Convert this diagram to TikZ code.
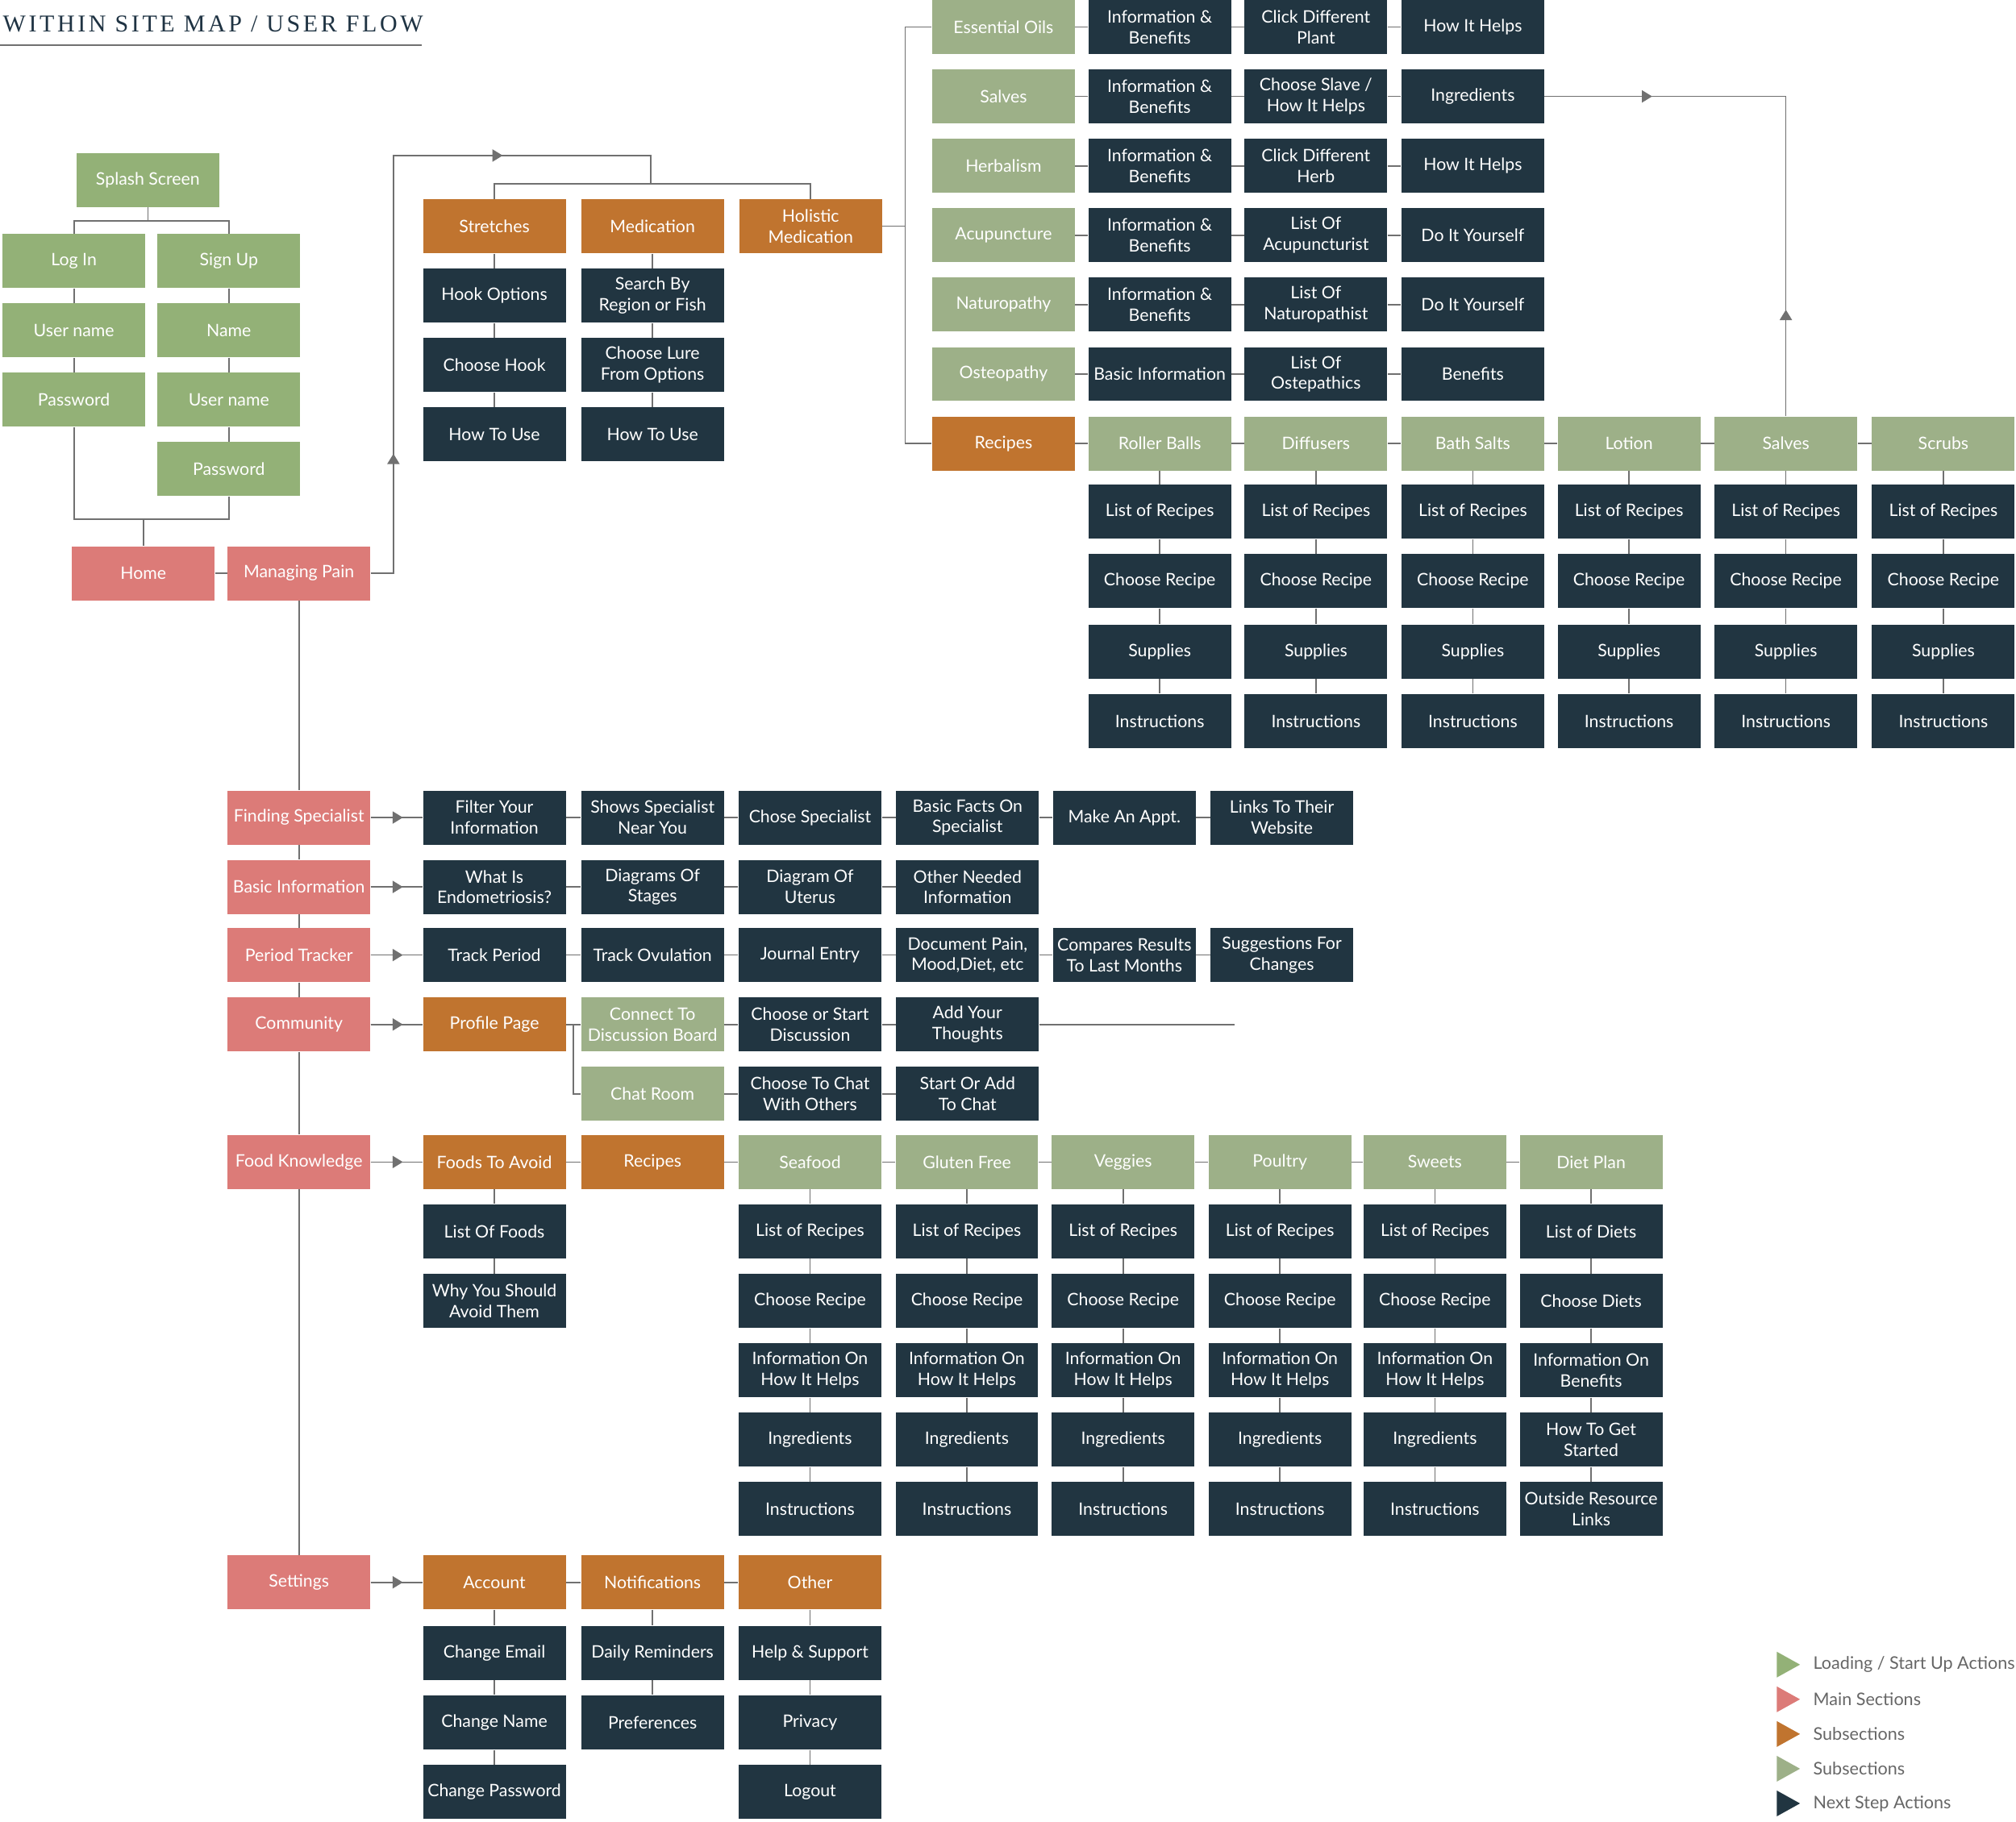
\documentclass[tikz,border=0pt]{standalone}
\usepackage{fontspec}
\usetikzlibrary{arrows.meta}
\newfontfamily\boxfont{Lato}
\newfontfamily\titlefont[LetterSpace=12]{Liberation Serif}
\definecolor{startgreen}{HTML}{93B177}
\definecolor{subgreen}{HTML}{9DB088}
\definecolor{mainpink}{HTML}{DC7B78}
\definecolor{suborange}{HTML}{C0742F}
\definecolor{navy}{HTML}{213541}
\definecolor{linegray}{HTML}{707070}
\definecolor{titleblue}{HTML}{1F3343}
\definecolor{legendgray}{HTML}{666666}
\tikzset{
  box/.style={minimum width=2.22cm, minimum height=0.84cm, inner sep=1pt, align=center, text=white,
    font=\boxfont\fontsize{7.6}{9.2}\selectfont},
  start/.style={box, fill=startgreen},
  mainsec/.style={box, fill=mainpink},
  subsec/.style={box, fill=suborange},
  subgreen/.style={box, fill=subgreen},
  nextstep/.style={box, fill=navy},
  link/.style={draw=linegray, line width=0.6pt},
  tip/.style={link, -{Triangle[length=0.16cm, width=0.19cm]}, fill=linegray},
  keytext/.style={anchor=west, inner sep=0, text=legendgray, font=\boxfont\fontsize{7.7}{9.4}\selectfont}
}
\begin{document}
\begin{tikzpicture}[x=0.02cm, y=-0.02cm]
\useasboundingbox (0,0) rectangle (1568,1417);

% title
\node[anchor=base west, inner sep=0, text=titleblue, font=\titlefont\fontsize{10.7}{12}\selectfont] (title) at (2,24.5) {WITHIN SITE MAP / USER FLOW};
\draw[draw=linegray, line width=0.5pt] (0,35) -- (328,35);

% start up
\node[start] (splash) at (115,140) {Splash Screen};
\node[start] (login) at (57.5,203) {Log In};
\node[start] (luser) at (57.5,257) {User name};
\node[start] (lpass) at (57.5,311) {Password};
\node[start] (signup) at (178,203) {Sign Up};
\node[start] (sname) at (178,257) {Name};
\node[start] (suser) at (178,311) {User name};
\node[start] (spass) at (178,365) {Password};
\node[mainsec] (home) at (111.5,446) {Home};
\node[mainsec] (pain) at (232.5,446) {Managing Pain};

\coordinate (splashJoin) at (115,172);
\coordinate (homeJoin) at (111.5,404);
\draw[link] (splash) -- (splashJoin) -| (login);
\draw[link] (splashJoin) -| (signup);
\draw[link] (login) -- (luser) -- (lpass);
\draw[link] (signup) -- (sname) -- (suser) -- (spass);
\draw[link] (lpass) |- (homeJoin) -| (spass);
\draw[link] (homeJoin) -- (home);
\draw[link] (home) -- (pain);

% managing pain
\node[subsec] (stretch) at (384.5,176) {Stretches};
\node[subsec] (med) at (507.5,176) {Medication};
\node[subsec] (holistic) at (630.5,176) {Holistic\\Medication};
\node[nextstep] (hookopt) at (384.5,230) {Hook Options};
\node[nextstep] (hookpick) at (384.5,284) {Choose Hook};
\node[nextstep] (hookuse) at (384.5,338) {How To Use};
\node[nextstep] (search) at (507.5,230) {Search By\\Region or Fish};
\node[nextstep] (lure) at (507.5,284) {Choose Lure\\From Options};
\node[nextstep] (lureuse) at (507.5,338) {How To Use};

\coordinate (painTurn) at (306,446);
\coordinate (painTop) at (306,121);
\coordinate (subJoin) at (506,121);
\coordinate (subBar) at (506,143);
\draw[link] (pain) -- (painTurn) -- (painTop) -- (subJoin) -- (subBar);
\draw[tip] (painTurn) -- (306,353);
\draw[tip] (painTop) -- (391,121);
\draw[link] (stretch) |- (subBar) -| (holistic);
\draw[link] (stretch) -- (hookopt) -- (hookpick) -- (hookuse);
\draw[link] (med) -- (search) -- (lure) -- (lureuse);

% holistic medication
\node[subgreen] (oils) at (780.5,21) {Essential Oils};
\node[nextstep] (oilsA) at (902,21) {Information \&\\Benefits};
\node[nextstep] (oilsB) at (1023.5,21) {Click Different\\Plant};
\node[nextstep] (oilsC) at (1145.5,21) {How It Helps};
\node[subgreen] (salve) at (780.5,75) {Salves};
\node[nextstep] (salveA) at (902,75) {Information \&\\Benefits};
\node[nextstep] (salveB) at (1023.5,75) {Choose Slave /\\How It Helps};
\node[nextstep] (salveC) at (1145.5,75) {Ingredients};
\node[subgreen] (herb) at (780.5,129) {Herbalism};
\node[nextstep] (herbA) at (902,129) {Information \&\\Benefits};
\node[nextstep] (herbB) at (1023.5,129) {Click Different\\Herb};
\node[nextstep] (herbC) at (1145.5,129) {How It Helps};
\node[subgreen] (acu) at (780.5,183) {Acupuncture};
\node[nextstep] (acuA) at (902,183) {Information \&\\Benefits};
\node[nextstep] (acuB) at (1023.5,183) {List Of\\Acupuncturist};
\node[nextstep] (acuC) at (1145.5,183) {Do It Yourself};
\node[subgreen] (natu) at (780.5,237) {Naturopathy};
\node[nextstep] (natuA) at (902,237) {Information \&\\Benefits};
\node[nextstep] (natuB) at (1023.5,237) {List Of\\Naturopathist};
\node[nextstep] (natuC) at (1145.5,237) {Do It Yourself};
\node[subgreen] (osteo) at (780.5,291) {Osteopathy};
\node[nextstep] (osteoA) at (902,291) {Basic Information};
\node[nextstep] (osteoB) at (1023.5,291) {List Of\\Ostepathics};
\node[nextstep] (osteoC) at (1145.5,291) {Benefits};
\node[subsec] (rec) at (780.5,345) {Recipes};

\coordinate (holBar) at (704,176);
\draw[link] (holistic) -- (holBar);
\draw[link] (oils) -| (holBar) |- (rec);
\draw[link] (oils) -- (oilsA) -- (oilsB) -- (oilsC);
\draw[link] (salve) -- (salveA) -- (salveB) -- (salveC);
\draw[link] (herb) -- (herbA) -- (herbB) -- (herbC);
\draw[link] (acu) -- (acuA) -- (acuB) -- (acuC);
\draw[link] (natu) -- (natuA) -- (natuB) -- (natuC);
\draw[link] (osteo) -- (osteoA) -- (osteoB) -- (osteoC);

\foreach \kind/\x [count=\i] in {Roller Balls/902, Diffusers/1023.5, Bath Salts/1145.5, Lotion/1267, Salves/1389, Scrubs/1511.5} {
  \node[subgreen] (rc\i) at (\x,345) {\kind};
  \node[nextstep] (rcA\i) at (\x,398) {List of Recipes};
  \node[nextstep] (rcB\i) at (\x,452) {Choose Recipe};
  \node[nextstep] (rcC\i) at (\x,507) {Supplies};
  \node[nextstep] (rcD\i) at (\x,561) {Instructions};
  \draw[link] (rc\i) -- (rcA\i) -- (rcB\i) -- (rcC\i) -- (rcD\i);
}
\draw[link] (rec) -- (rc1) -- (rc2) -- (rc3) -- (rc4) -- (rc5) -- (rc6);
\coordinate (salveTurn) at (1389,75);
\draw[link] (salveC) -- (salveTurn) -- (rc5);
\draw[tip] (salveC.east) -- (1285,75);
\draw[tip] (rc5.north) -- (1389,241);

% main sections
\node[mainsec] (fspec) at (232.5,636) {Finding Specialist};
\node[mainsec] (binfo) at (232.5,690) {Basic Information};
\node[mainsec] (ptrack) at (232.5,743) {Period Tracker};
\node[mainsec] (comm) at (232.5,797) {Community};
\node[mainsec] (food) at (232.5,904) {Food Knowledge};
\node[mainsec] (sett) at (232.5,1231) {Settings};
\draw[link] (pain) -- (fspec) -- (binfo) -- (ptrack) -- (comm) -- (food) -- (sett);

% finding specialist
\node[nextstep] (fsA) at (384.5,636) {Filter Your\\Information};
\node[nextstep] (fsB) at (507.5,636) {Shows Specialist\\Near You};
\node[nextstep] (fsC) at (630,636) {Chose Specialist};
\node[nextstep] (fsD) at (752.5,636) {Basic Facts On\\Specialist};
\node[nextstep] (fsE) at (874.5,636) {Make An Appt.};
\node[nextstep] (fsF) at (997,636) {Links To Their\\Website};
\draw[link] (fspec) -- (fsA) -- (fsB) -- (fsC) -- (fsD) -- (fsE) -- (fsF);
\draw[tip] (fspec.east) -- ++(25,0);

% basic information
\node[nextstep] (biA) at (384.5,690) {What Is\\Endometriosis?};
\node[nextstep] (biB) at (507.5,690) {Diagrams Of\\Stages};
\node[nextstep] (biC) at (630,690) {Diagram Of\\Uterus};
\node[nextstep] (biD) at (752.5,690) {Other Needed\\Information};
\draw[link] (binfo) -- (biA) -- (biB) -- (biC) -- (biD);
\draw[tip] (binfo.east) -- ++(25,0);

% period tracker
\node[nextstep] (ptA) at (384.5,743) {Track Period};
\node[nextstep] (ptB) at (507.5,743) {Track Ovulation};
\node[nextstep] (ptC) at (630,743) {Journal Entry};
\node[nextstep] (ptD) at (752.5,743) {Document Pain,\\Mood,Diet, etc};
\node[nextstep] (ptE) at (874.5,743) {Compares Results\\To Last Months};
\node[nextstep] (ptF) at (997,743) {Suggestions For\\Changes};
\draw[link] (ptrack) -- (ptA) -- (ptB) -- (ptC) -- (ptD) -- (ptE) -- (ptF);
\draw[tip] (ptrack.east) -- ++(25,0);

% community
\node[subsec] (prof) at (384.5,797) {Profile Page};
\node[subgreen] (disc) at (507.5,797) {Connect To\\Discussion Board};
\node[nextstep] (discB) at (630,797) {Choose or Start\\Discussion};
\node[nextstep] (discC) at (752.5,797) {Add Your\\Thoughts};
\node[subgreen] (chat) at (507.5,851) {Chat Room};
\node[nextstep] (chatB) at (630,851) {Choose To Chat\\With Others};
\node[nextstep] (chatC) at (752.5,851) {Start Or Add\\To Chat};
\coordinate (commSplit) at (446,797);
\coordinate (discEnd) at (960,797);
\draw[link] (comm) -- (prof) -- (disc) -- (discB) -- (discC) -- (discEnd);
\draw[link] (commSplit) |- (chat);
\draw[link] (chat) -- (chatB) -- (chatC);
\draw[tip] (comm.east) -- ++(25,0);

% food knowledge
\node[subsec] (avoid) at (384.5,904) {Foods To Avoid};
\node[subsec] (frec) at (507.5,904) {Recipes};
\node[nextstep] (avoidA) at (384.5,958) {List Of Foods};
\node[nextstep] (avoidB) at (384.5,1012) {Why You Should\\Avoid Them};
\draw[link] (avoid) -- (avoidA) -- (avoidB);
\foreach \kind/\x [count=\i] in {Seafood/630, Gluten Free/752, Veggies/873.5, Poultry/995.5, Sweets/1116} {
  \node[subgreen] (fc\i) at (\x,904) {\kind};
  \node[nextstep] (fcA\i) at (\x,958) {List of Recipes};
  \node[nextstep] (fcB\i) at (\x,1012) {Choose Recipe};
  \node[nextstep] (fcC\i) at (\x,1066) {Information On\\How It Helps};
  \node[nextstep] (fcD\i) at (\x,1120) {Ingredients};
  \node[nextstep] (fcE\i) at (\x,1174) {Instructions};
  \draw[link] (fc\i) -- (fcA\i) -- (fcB\i) -- (fcC\i) -- (fcD\i) -- (fcE\i);
}
\node[subgreen] (diet) at (1237.5,904) {Diet Plan};
\node[nextstep] (dietA) at (1237.5,958) {List of Diets};
\node[nextstep] (dietB) at (1237.5,1012) {Choose Diets};
\node[nextstep] (dietC) at (1237.5,1066) {Information On\\Benefits};
\node[nextstep] (dietD) at (1237.5,1120) {How To Get\\Started};
\node[nextstep] (dietE) at (1237.5,1174) {Outside Resource\\Links};
\draw[link] (diet) -- (dietA) -- (dietB) -- (dietC) -- (dietD) -- (dietE);
\draw[link] (food) -- (avoid) -- (frec) -- (fc1) -- (fc2) -- (fc3) -- (fc4) -- (fc5) -- (diet);
\draw[tip] (food.east) -- ++(25,0);

% settings
\node[subsec] (acct) at (384.5,1231) {Account};
\node[subsec] (notif) at (507.5,1231) {Notifications};
\node[subsec] (other) at (630,1231) {Other};
\node[nextstep] (acctA) at (384.5,1286) {Change Email};
\node[nextstep] (acctB) at (384.5,1340) {Change Name};
\node[nextstep] (acctC) at (384.5,1394) {Change Password};
\node[nextstep] (notifA) at (507.5,1286) {Daily Reminders};
\node[nextstep] (notifB) at (507.5,1340) {Preferences};
\node[nextstep] (otherA) at (630,1286) {Help \& Support};
\node[nextstep] (otherB) at (630,1340) {Privacy};
\node[nextstep] (otherC) at (630,1394) {Logout};
\draw[link] (sett) -- (acct) -- (notif) -- (other);
\draw[link] (acct) -- (acctA) -- (acctB) -- (acctC);
\draw[link] (notif) -- (notifA) -- (notifB);
\draw[link] (other) -- (otherA) -- (otherB) -- (otherC);
\draw[tip] (sett.east) -- ++(25,0);

% legend
\fill[startgreen] (1382,1285) -- (1400,1295) -- (1382,1305) -- cycle;
\node[keytext] (keyStart) at (1410,1295) {Loading / Start Up Actions};
\fill[mainpink] (1382,1312) -- (1400,1322) -- (1382,1332) -- cycle;
\node[keytext] (keyMain) at (1410,1322) {Main Sections};
\fill[suborange] (1382,1339) -- (1400,1349) -- (1382,1359) -- cycle;
\node[keytext] (keySub) at (1410,1349) {Subsections};
\fill[subgreen] (1382,1366) -- (1400,1376) -- (1382,1386) -- cycle;
\node[keytext] (keySubTwo) at (1410,1376) {Subsections};
\fill[navy] (1382,1393) -- (1400,1403) -- (1382,1413) -- cycle;
\node[keytext] (keyNext) at (1410,1403) {Next Step Actions};
\end{tikzpicture}
\end{document}
